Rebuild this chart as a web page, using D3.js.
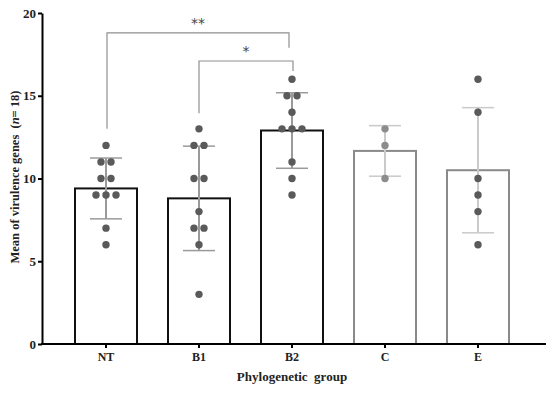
<!DOCTYPE html>
<html>
<head>
<meta charset="utf-8">
<script src="https://cdn.jsdelivr.net/npm/d3@7"></script>
<style>
  body { margin: 0; background: #fff; }
  svg text { font-family: "Liberation Serif", "Times New Roman", serif; font-weight: bold; }
</style>
</head>
<body>
<div id="chart"></div>
<script>
// Phylogenetic groups and the individual isolate counts in each
const groups = ["NT", "B1", "B2", "C", "E"];
const ntValues = [12, 11, 11, 10, 10, 9, 9, 9, 7, 6];
const b1Values = [13, 12, 12, 10, 10, 8, 7, 7, 6, 3];
const b2Values = [16, 15, 15, 14, 13, 13, 13, 11, 10, 9];
const cValues = [13, 12, 10];
const eValues = [16, 14, 10, 9, 8, 6];
const yTicks = [0, 5, 10, 15, 20];

// significance brackets (heights in data units)
const brackets = [
    {from: "NT", to: "B2", label: "**", top: 18.8, leftEnd: 13.0, rightEnd: 17.9},
    {from: "B1", to: "B2", label: "*", top: 17.1, leftEnd: 13.95, rightEnd: 16.5}
];

const width = 550, height = 393;
const dark = ["NT", "B1", "B2"];

const series = groups.map((g, i) => {
    const vals = [ntValues, b1Values, b2Values, cValues, eValues][i];
    return {group: g, values: vals, mean: d3.mean(vals), sd: d3.deviation(vals)};
});

const svg = d3.select("#chart").append("svg")
    .attr("width", width)
    .attr("height", height);

const x = d3.scaleBand()
    .domain(groups)
    .range([59.5, 524.5])
    .paddingInner(1 / 3)
    .paddingOuter(1 / 6);

const y = d3.scaleLinear()
    .domain([0, 20])
    .range([344, 13]);

const cx = g => x(g) + x.bandwidth() / 2;

// bars
svg.append("g").selectAll("rect")
    .data(series)
    .join("rect")
    .attr("x", d => x(d.group))
    .attr("y", d => y(d.mean))
    .attr("width", x.bandwidth())
    .attr("height", d => y(0) - y(d.mean))
    .attr("fill", "#fff")
    .attr("stroke", d => dark.includes(d.group) ? "#111" : "#8a8a8a")
    .attr("stroke-width", 2);

// error bars
const err = svg.append("g");
series.forEach(d => {
    const c = cx(d.group);
    const col = dark.includes(d.group) ? "#9a9a9a" : "#cacaca";
    err.append("line")
        .attr("x1", c).attr("x2", c)
        .attr("y1", y(d.mean + d.sd)).attr("y2", y(d.mean - d.sd))
        .attr("stroke", col).attr("stroke-width", 2);
    [d.mean + d.sd, d.mean - d.sd].forEach(v => {
        err.append("line")
            .attr("x1", c - 16).attr("x2", c + 16)
            .attr("y1", y(v)).attr("y2", y(v))
            .attr("stroke", col).attr("stroke-width", 1.5);
    });
});

// individual points, spread sideways when values repeat
const pts = svg.append("g");
series.forEach(d => {
    const counts = d3.rollup(d.values, v => v.length, v => v);
    const seen = new Map();
    d.values.forEach(v => {
        const n = counts.get(v);
        const k = seen.get(v) || 0;
        seen.set(v, k + 1);
        const off = (k - (n - 1) / 2) * 10;
        pts.append("circle")
            .attr("cx", cx(d.group) + off)
            .attr("cy", y(v))
            .attr("r", 3.7)
            .attr("fill", d.group === "C" ? "#8c8c8c" : "#5a5a5a");
    });
});

// significance brackets
const br = svg.append("g");
brackets.forEach((b, i) => {
    const x1 = cx(b.from) + (i === 0 ? 1 : 0);
    const x2 = cx(b.to) - (i === 0 ? 3 : -1);
    br.append("path")
        .attr("d", `M${x1},${y(b.leftEnd)}V${y(b.top)}H${x2}V${y(b.rightEnd)}`)
        .attr("fill", "none")
        .attr("stroke", "#8f8f8f")
        .attr("stroke-width", 1.2);
    br.append("text")
        .attr("x", (x1 + x2) / 2)
        .attr("y", y(b.top) - 5)
        .attr("text-anchor", "middle")
        .attr("font-size", 14)
        .attr("fill", "#444")
        .style("font-family", "DejaVu Sans, sans-serif")
        .style("font-weight", "normal")
        .text(b.label);
});

// y axis
const yAxis = svg.append("g")
    .attr("transform", "translate(42,0)")
    .call(d3.axisLeft(y).tickValues(yTicks).tickSize(4).tickPadding(2).tickSizeOuter(0));
yAxis.select(".domain").attr("stroke", "#000").attr("stroke-width", 2);
yAxis.selectAll(".tick line").attr("stroke", "#000").attr("stroke-width", 2);
yAxis.selectAll(".tick text").attr("font-size", 13).attr("fill", "#222")
    .style("font-family", "Liberation Serif, serif").style("font-weight", "bold");

// x axis
svg.append("line")
    .attr("x1", 41).attr("x2", 546)
    .attr("y1", y(0)).attr("y2", y(0))
    .attr("stroke", "#000").attr("stroke-width", 2);
const xAxis = svg.append("g")
    .attr("transform", `translate(0,${y(0)})`)
    .call(d3.axisBottom(x).tickSize(4).tickPadding(4).tickSizeOuter(0));
xAxis.select(".domain").remove();
xAxis.selectAll(".tick line").attr("stroke", "#000").attr("stroke-width", 2);
xAxis.selectAll(".tick text").attr("font-size", 12).attr("fill", "#222")
    .style("font-family", "Liberation Serif, serif").style("font-weight", "bold");

// axis titles
svg.append("text")
    .attr("x", 292)
    .attr("y", 381)
    .attr("text-anchor", "middle")
    .attr("font-size", 13)
    .attr("fill", "#222")
    .style("white-space", "pre")
    .text("Phylogenetic  group");

const yTitle = svg.append("text")
    .attr("transform", "translate(19,177) rotate(-90)")
    .attr("text-anchor", "middle")
    .attr("font-size", 12.5)
    .attr("fill", "#222")
    .style("white-space", "pre");
yTitle.append("tspan").text("Mean of virulence genes  (");
yTitle.append("tspan").style("font-style", "italic").text("n");
yTitle.append("tspan").text("= 18)");
</script>
</body>
</html>
